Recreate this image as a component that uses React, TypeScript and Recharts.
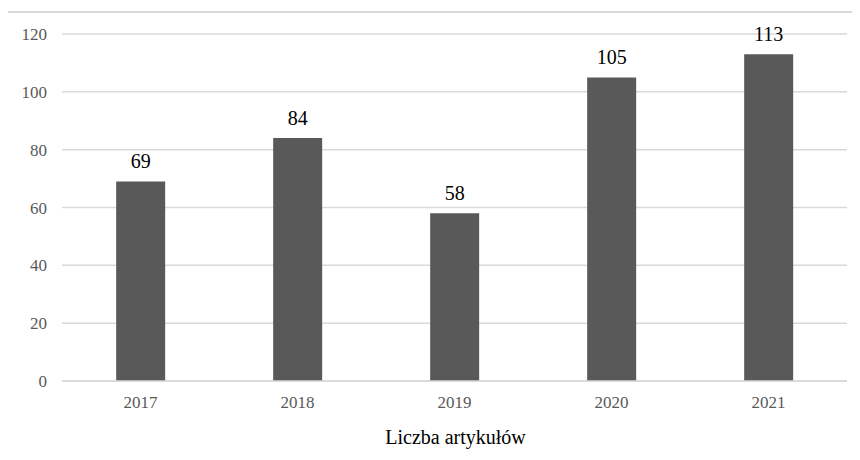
import React from "react";
import { BarChart, Bar, XAxis, YAxis, CartesianGrid, LabelList } from "recharts";

const years = ["2017", "2018", "2019", "2020", "2021"];
const articles = [69, 84, 58, 105, 113];
const yTicks = [0, 20, 40, 60, 80, 100, 120];
const xTitle = "Liczba artykułów";

const data = years.map((y, i) => ({ year: y, value: articles[i] }));

const FONT = "Liberation Serif";

const XTick = (props: any) => {
  const { x, y, payload } = props;
  return (
    <text x={x} y={y + 27} textAnchor="middle" fill="#595959" fontSize={17} style={{ fontFamily: FONT }}>
      {payload.value}
    </text>
  );
};

const YTick = (props: any) => {
  const { x, y, payload } = props;
  return (
    <text x={x - 15} y={y + 6} textAnchor="end" fill="#595959" fontSize={17} style={{ fontFamily: FONT }}>
      {payload.value}
    </text>
  );
};

const ValueLabel = (props: any) => {
  const { x, y, width, value } = props;
  return (
    <text
      x={Number(x) + Number(width) / 2}
      y={Number(y) - 13}
      textAnchor="middle"
      fill="#000"
      fontSize={20}
      style={{ fontFamily: FONT }}
    >
      {value}
    </text>
  );
};

const TitleLabel = (props: any) => {
  const vb = props.viewBox || {};
  return (
    <text
      x={vb.x + vb.width / 2 + 1}
      y={vb.y + 63}
      textAnchor="middle"
      fill="#000"
      fontSize={20}
      style={{ fontFamily: FONT }}
    >
      {xTitle}
    </text>
  );
};

export default function App() {
  return (
    <div
      style={{
        position: "relative",
        margin: -8,
        width: 860,
        height: 460,
        overflow: "hidden",
        background: "#fff",
        fontFamily: FONT,
      }}
    >
      <div
        style={{
          position: "absolute",
          left: 6,
          top: 11,
          width: 900,
          height: 500,
          border: "2px solid #d9d9d9",
          boxSizing: "border-box",
        }}
      />
      <div style={{ position: "absolute", left: 0, top: 0 }}>
        <BarChart
          width={860}
          height={460}
          data={data}
          margin={{ top: 34, right: 13, bottom: 0, left: 0 }}
          barCategoryGap="34.5%"
        >
          <CartesianGrid vertical={false} stroke="#d9d9d9" strokeWidth={1.5} />
          <XAxis
            dataKey="year"
            height={79}
            tickLine={false}
            tickSize={0}
            tickMargin={0}
            axisLine={{ stroke: "#d9d9d9", strokeWidth: 1.5 }}
            tick={<XTick />}
            label={<TitleLabel />}
          />
          <YAxis
            width={62}
            domain={[0, 120]}
            ticks={yTicks}
            interval={0}
            axisLine={false}
            tickLine={false}
            tickSize={0}
            tickMargin={0}
            tick={<YTick />}
          />
          <Bar dataKey="value" fill="#595959" isAnimationActive={false}>
            <LabelList dataKey="value" content={<ValueLabel />} />
          </Bar>
        </BarChart>
      </div>
    </div>
  );
}
